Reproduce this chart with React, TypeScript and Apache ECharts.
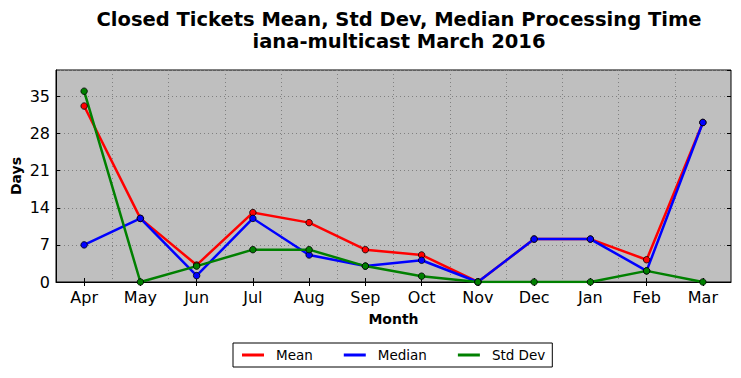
import React, { useEffect, useRef } from "react";
import * as echarts from "echarts";

const months = ["Apr", "May", "Jun", "Jul", "Aug", "Sep", "Oct", "Nov", "Dec", "Jan", "Feb", "Mar"];
const meanValues = [33.2, 12, 3.2, 13.1, 11.2, 6.1, 5.1, 0, 8.1, 8.1, 4.2, 30.1];
const medianValues = [7, 12, 1.2, 12, 5.1, 3, 4.1, 0, 8.1, 8.1, 2.1, 30.1];
const stdDevValues = [36, 0, 3, 6.1, 6.1, 3, 1.1, 0, 0, 0, 2.1, 0];
const yTicks = [0, 7, 14, 21, 28, 35];

const FONT = "DejaVu Sans";

export default function App() {
  const ref = useRef<HTMLDivElement>(null);
  useEffect(() => {
    if (!ref.current) return;
    const chart = echarts.init(ref.current, undefined, { renderer: "svg" });
    const mkSeries = (name: string, data: number[], color: string) => ({
      name,
      type: "line",
      data,
      symbol: "circle",
      symbolSize: 6.5,
      itemStyle: { color, borderColor: "#000", borderWidth: 0.8 },
      lineStyle: { color, width: 2.5 },
      emphasis: { disabled: true },
    });
    chart.setOption({
      animation: false,
      backgroundColor: "#fff",
      textStyle: { fontFamily: FONT },
      title: {
        text: "Closed Tickets Mean, Std Dev, Median Processing Time\niana-multicast March 2016",
        left: 394,
        top: 3,
        textAlign: "center",
        textStyle: { fontFamily: FONT, fontSize: 19.5, fontWeight: "bold", color: "#000", lineHeight: 22 },
      },
      legend: {
        left: 233,
        top: 343,
        icon: "rect",
        itemWidth: 22,
        itemHeight: 3,
        itemGap: 31,
        padding: [5, 7, 5, 9],
        borderColor: "#000",
        borderWidth: 1,
        itemStyle: { borderWidth: 0 },
        textStyle: { fontFamily: FONT, fontSize: 13.5, color: "#000", padding: [0, 0, 0, 7] },
        data: ["Mean", "Median", "Std Dev"],
      },
      grid: {
        left: 56,
        right: 10,
        top: 70,
        bottom: 96,
        containLabel: false,
        outerBoundsMode: "none",
        show: true,
        backgroundColor: "#bfbfbf",
        borderColor: "#000",
        borderWidth: 1,
      },
      xAxis: [
        {
          type: "category",
          data: months,
          boundaryGap: true,
          name: "Month",
          nameLocation: "middle",
          nameGap: 30,
          nameMoveOverlap: false,
          nameTextStyle: { fontFamily: FONT, fontSize: 14, fontWeight: "bold", color: "#000" },
          axisLine: { show: true, lineStyle: { color: "#000" } },
          axisTick: { show: true, inside: true, alignWithLabel: true, length: 4, lineStyle: { color: "#000" } },
          axisLabel: { fontFamily: FONT, fontSize: 16, color: "#000", margin: 7 },
          splitLine: { show: true, lineStyle: { color: "#808080", type: [1, 3], width: 1 } },
        },
        {
          type: "category",
          data: months,
          position: "top",
          boundaryGap: true,
          axisLine: { show: false },
          axisTick: { show: true, inside: true, alignWithLabel: true, length: 4, lineStyle: { color: "#000" } },
          axisLabel: { show: false },
          splitLine: { show: false },
        },
      ],
      yAxis: [
        {
          type: "value",
          min: 0,
          max: 40,
          interval: 7,
          name: "Days",
          nameLocation: "middle",
          nameGap: 33,
          nameMoveOverlap: false,
          nameTextStyle: { fontFamily: FONT, fontSize: 14, fontWeight: "bold", color: "#000" },
          axisLine: { show: true, lineStyle: { color: "#000" } },
          axisTick: { show: true, inside: true, length: 4, lineStyle: { color: "#000" } },
          axisLabel: {
            fontFamily: FONT,
            fontSize: 16,
            color: "#000",
            margin: 6,
            showMaxLabel: false,
            formatter: (v: number) => (yTicks.includes(v) ? String(v) : ""),
          },
          splitLine: { show: true, lineStyle: { color: "#808080", type: [1, 3], width: 1 } },
        },
        {
          type: "value",
          min: 0,
          max: 40,
          interval: 7,
          position: "right",
          axisLine: { show: false },
          axisTick: { show: true, inside: true, length: 4, lineStyle: { color: "#000" } },
          axisLabel: { show: false },
          splitLine: { show: false },
        },
      ],
      series: [
        mkSeries("Mean", meanValues, "#ff0000"),
        mkSeries("Median", medianValues, "#0000ff"),
        mkSeries("Std Dev", stdDevValues, "#008000"),
      ],
    });
    return () => chart.dispose();
  }, []);
  return <div ref={ref} style={{ position: "fixed", left: 0, top: 0, width: 741, height: 378 }} />;
}
